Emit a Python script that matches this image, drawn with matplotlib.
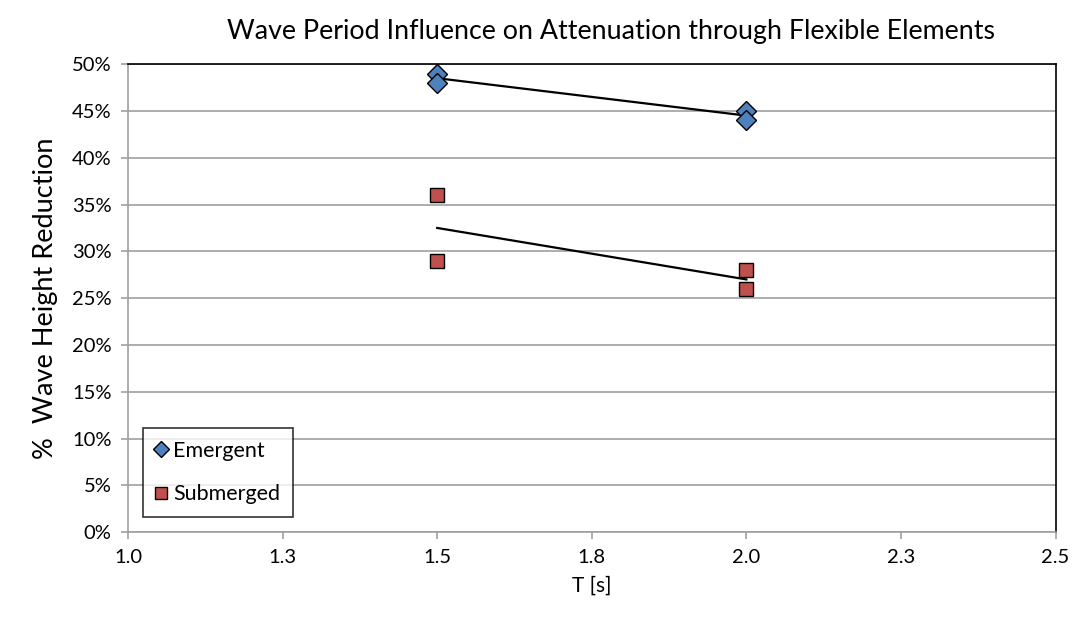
import numpy as np
import matplotlib.pyplot as plt
from matplotlib.ticker import FuncFormatter

plt.rcParams['font.family'] = ['Lato', 'DejaVu Sans']

# wave period [s] and measured wave height reduction [%]
period_emergent = [1.5, 1.5, 2.0, 2.0]
reduction_emergent = [49, 48, 45, 44]
period_submerged = [1.5, 1.5, 2.0, 2.0]
reduction_submerged = [36, 29, 28, 26]

x_ticks = [1.0, 1.25, 1.5, 1.75, 2.0, 2.25, 2.5]
x_tick_labels = ["1.0", "1.3", "1.5", "1.8", "2.0", "2.3", "2.5"]

fig = plt.figure(figsize=(10.76, 6.29), dpi=100)
ax = fig.add_axes([0.119, 0.154, 0.862, 0.744])

ax.plot(period_emergent, reduction_emergent, 'D', color='#4F81BD', mec='black',
        mew=1.0, ms=10.5, label='Emergent', zorder=4)
ax.plot(period_submerged, reduction_submerged, 's', color='#C0504D', mec='black',
        mew=1.0, ms=10, label='Submerged', zorder=4)

# linear trend lines
for xs, ys in [(period_emergent, reduction_emergent), (period_submerged, reduction_submerged)]:
    k, b = np.polyfit(xs, ys, 1)
    xl = np.array([min(xs), max(xs)])
    ax.plot(xl, k * xl + b, color='black', lw=1.6, zorder=3)

ax.set_xlim(1.0, 2.5)
ax.set_ylim(0, 50)
ax.set_xticks(x_ticks)
ax.set_xticklabels(x_tick_labels)
ax.set_yticks(np.arange(0, 51, 5))
ax.yaxis.set_major_formatter(FuncFormatter(lambda v, p: f"{v:.0f}%"))
ax.grid(axis='y', color='#a0a0a0', lw=1.2)
ax.set_axisbelow(True)

for s in ['top', 'right']:
    ax.spines[s].set_color('black')
    ax.spines[s].set_linewidth(1.2)
for s in ['left', 'bottom']:
    ax.spines[s].set_color('#a0a0a0')
    ax.spines[s].set_linewidth(1.2)
ax.tick_params(axis='both', direction='out', length=5, color='#a0a0a0', width=1.2,
               labelsize=14.5, pad=7)

ax.set_xlabel('T [s]', fontsize=15, labelpad=7)
ax.set_ylabel('%  Wave Height Reduction', fontsize=19.5, labelpad=10)
ax.set_title('Wave Period Influence on Attenuation through Flexible Elements',
             fontsize=19.3, pad=18, x=0.521)

leg = ax.legend(loc='lower left', bbox_to_anchor=(0.016, 0.032), fontsize=15.5,
                frameon=True, fancybox=False, edgecolor='black', handlelength=0.5,
                handletextpad=0.3, labelspacing=1.1, borderpad=0.6, borderaxespad=0,
                markerscale=0.8)
leg.get_frame().set_linewidth(1.2)

plt.savefig('out.png', dpi=100)
